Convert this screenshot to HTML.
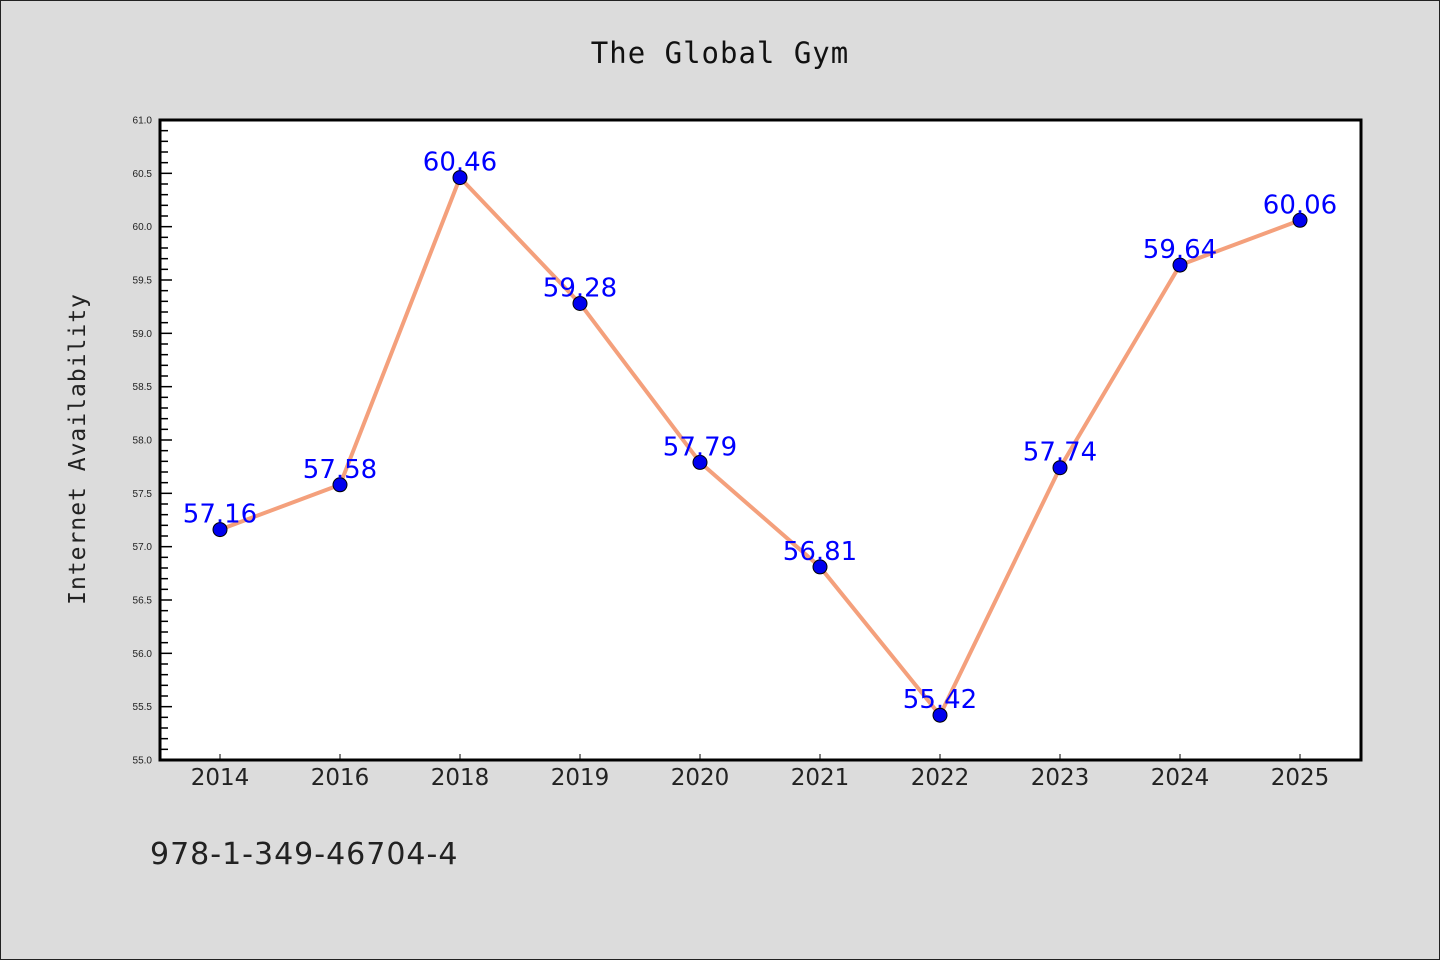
<!DOCTYPE html>
<html><head><meta charset="utf-8"><style>
body{margin:0;background:#dcdcdc;}
svg{display:block;font-family:"Liberation Sans","DejaVu Sans",sans-serif;}
</style></head><body>
<svg id="chart" width="1440" height="960" viewBox="0 0 1440 960">
<rect x="0.5" y="0.5" width="1439" height="959" fill="#dcdcdc" stroke="#222"/>
<text x="720" y="63" text-anchor="middle" font-family="DejaVu Sans Mono, Liberation Mono, monospace" font-size="29" letter-spacing="1" fill="#111">The Global Gym</text>
<rect x="160" y="120" width="1201" height="640" fill="#fff"/>
<text transform="translate(85,449) rotate(-90)" text-anchor="middle" font-family="DejaVu Sans Mono, Liberation Mono, monospace" font-size="23" letter-spacing="1" fill="#222">Internet Availability</text>
<text x="150" y="864" font-size="30" letter-spacing="1" fill="#222" font-family="DejaVu Sans, sans-serif">978-1-349-46704-4</text>
<g id="axes"></g>
<g id="marks"></g>
<rect x="160" y="120" width="1201" height="640" fill="none" stroke="#000" stroke-width="3"/>
</svg>
<script>
const categories = ["2014","2016","2018","2019","2020","2021","2022","2023","2024","2025"];
const values = [57.16,57.58,60.46,59.28,57.79,56.81,55.42,57.74,59.64,60.06];
const valueLabels = ["57.16","57.58","60.46","59.28","57.79","56.81","55.42","57.74","59.64","60.06"];
const yTicks = ["55.0","55.5","56.0","56.5","57.0","57.5","58.0","58.5","59.0","59.5","60.0","60.5","61.0"];
const yMin = 55, yMax = 61;
const plotL=160, plotR=1360, plotT=120, plotB=760;
const NS="http://www.w3.org/2000/svg";
function xPos(i){return plotL + (plotR-plotL)/categories.length*(i+0.5);}
function yPos(v){return plotB - (v-yMin)/(yMax-yMin)*(plotB-plotT);}
function mk(tag,attrs,parent){const e=document.createElementNS(NS,tag);for(const k in attrs)e.setAttribute(k,attrs[k]);parent.appendChild(e);return e;}
const axesG=document.getElementById('axes'), marksG=document.getElementById('marks');
for(let k=0;k<=Math.round((yMax-yMin)*10);k++){
  const v=yMin+k/10, y=yPos(v), major=k%5===0;
  const t=mk('line',{x1:plotL,x2:plotL+(major?12:8),y1:y,y2:y,stroke:'#000','stroke-width':1.5},axesG);
  
  
}
yTicks.forEach(s=>{
  const tx=mk('text',{x:152,y:yPos(parseFloat(s))+3.5,'text-anchor':'end','font-size':10,fill:'#222'},axesG);
  tx.textContent=s;
  
  
});
categories.forEach((c,i)=>{
  const x=xPos(i);
  const t=mk('line',{x1:x,x2:x,y1:plotB,y2:plotB-6,stroke:'#000','stroke-width':1},axesG);
  
  
  const tx=mk('text',{x:x,y:785,'text-anchor':'middle','font-size':23,fill:'#222','font-family':'DejaVu Sans, sans-serif'},axesG);
  tx.textContent=c;
  
  
});
const pts=values.map((v,i)=>xPos(i)+','+yPos(v)).join(' ');
const line=mk('polyline',{points:pts,fill:'none',stroke:'#f4a07c','stroke-width':4,'stroke-linejoin':'round'},marksG);


values.forEach((v,i)=>{
  const c=mk('circle',{cx:xPos(i),cy:yPos(v),r:7,fill:'#0000ee',stroke:'#000','stroke-width':1},marksG);
  
  
  const t=mk('text',{x:xPos(i),y:yPos(v)-7,'text-anchor':'middle','font-size':26,fill:'#0000ff','font-family':'DejaVu Sans, sans-serif'},marksG);
  t.textContent=valueLabels[i];
  
  
});
</script>
</body></html>
